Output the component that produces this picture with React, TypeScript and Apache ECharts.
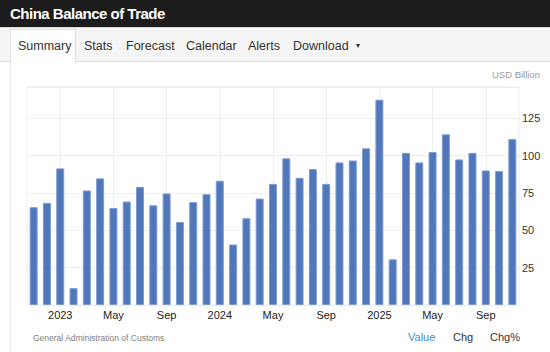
import React, { useEffect, useRef } from "react";
import * as echarts from "echarts";

const months: string[] = [
  "2022-11", "2022-12",
  "2023-01", "2023-02", "2023-03", "2023-04", "2023-05", "2023-06",
  "2023-07", "2023-08", "2023-09", "2023-10", "2023-11", "2023-12",
  "2024-01", "2024-02", "2024-03", "2024-04", "2024-05", "2024-06",
  "2024-07", "2024-08", "2024-09", "2024-10", "2024-11", "2024-12",
  "2025-01", "2025-02", "2025-03", "2025-04", "2025-05", "2025-06",
  "2025-07", "2025-08", "2025-09", "2025-10", "2025-11",
];

const balance: number[] = [
  65.5, 68.4,
  91.5, 11.3, 76.7, 84.8, 65.0, 69.3,
  79.1, 66.8, 74.7, 55.6, 68.9, 74.2,
  83.2, 40.5, 58.1, 71.3, 81.1, 98.2,
  85.2, 91.0, 81.1, 95.5, 96.8, 104.9,
  137.5, 30.6, 101.9, 95.5, 102.4, 114.3,
  97.5, 101.9, 90.1, 89.7, 111.1,
];

const monthNames: string[] = ["Jan", "Feb", "Mar", "Apr", "May", "Jun", "Jul", "Aug", "Sep", "Oct", "Nov", "Dec"];
const labelMonths: string[] = ["01", "05", "09"];
const tabs: string[] = ["Summary", "Stats", "Forecast", "Calendar", "Alerts", "Download"];
const tabX: number[] = [18, 84, 126, 186, 248, 293];
const footerLinks: string[] = ["Value", "Chg", "Chg%"];
const footerX: number[] = [408, 453, 490];

const FONT = "'Liberation Sans', Arial, Helvetica, sans-serif";

function showLabel(_i: number, v: string): boolean {
  return labelMonths.indexOf(v.slice(5)) >= 0;
}

function Chart() {
  const ref = useRef<HTMLDivElement>(null);
  useEffect(() => {
    if (!ref.current) return;
    const chart = echarts.init(ref.current, null, { renderer: "svg" });
    chart.setOption({
      animation: false,
      textStyle: { fontFamily: FONT },
      grid: {
        left: 27, top: 25, width: 492, height: 218,
        show: true, borderColor: "#eeeeee", borderWidth: 1, backgroundColor: "transparent",
      },
      xAxis: {
        type: "category",
        data: months,
        boundaryGap: true,
        axisLine: { show: false },
        axisTick: { show: false },
        axisLabel: {
          interval: (i: number, v: string) => showLabel(i, v),
          formatter: (v: string) => {
            const m = v.slice(5);
            return m === "01" ? v.slice(0, 4) : monthNames[parseInt(m, 10) - 1];
          },
          color: "#222",
          fontSize: 11,
          margin: 4,
          fontFamily: FONT,
        },
        splitLine: {
          show: true,
          alignWithLabel: true,
          interval: (i: number, v: string) => showLabel(i, v),
          lineStyle: { color: "#eeeeee", width: 1 },
        },
      },
      yAxis: {
        type: "value",
        position: "right",
        min: 0,
        max: 146,
        interval: 25,
        axisLine: { show: false },
        axisTick: { show: false },
        axisLabel: {
          showMinLabel: false,
          showMaxLabel: false,
          color: "#333",
          fontSize: 11,
          margin: 3,
          fontFamily: FONT,
        },
        splitLine: { show: true, lineStyle: { color: "#eeeeee", width: 1 } },
      },
      series: [
        {
          type: "bar",
          data: balance,
          barWidth: 8,
          itemStyle: { color: "#5077ba", borderColor: "#7e9cd2", borderWidth: 1 },
        },
      ],
      graphic: [
        {
          type: "text",
          right: 10,
          top: 7,
          style: { text: "USD Billion", fill: "#999", fontSize: 9.5, fontFamily: FONT },
        },
        {
          type: "text",
          left: 33,
          top: 271,
          style: { text: "General Administration of Customs", fill: "#808080", fontSize: 8.5, fontFamily: FONT },
        },
        ...footerLinks.map((t, i) => ({
          type: "text",
          left: footerX[i],
          top: 269,
          style: { text: t, fill: i === 0 ? "#428bca" : "#333", fontSize: 11, fontFamily: FONT },
        })),
      ],
    });
    return () => chart.dispose();
  }, []);
  return <div ref={ref} style={{ position: "absolute", left: 0, top: 62, width: 550, height: 290 }} />;
}

export default function App() {
  useEffect(() => {
    document.body.style.margin = "0";
  }, []);
  return (
    <div style={{ position: "absolute", left: 0, top: 0, width: 550, height: 352, overflow: "hidden", background: "#fff", fontFamily: FONT }}>
      <div style={{ position: "absolute", left: 0, top: 0, width: 550, height: 27, background: "#1c1c1c" }}>
        <div style={{ position: "absolute", left: 10, top: 5, color: "#fff", fontWeight: "bold", fontSize: 15, letterSpacing: -0.5, lineHeight: "18px" }}>
          China Balance of Trade
        </div>
      </div>
      <div style={{ position: "absolute", left: 0, top: 27, width: 550, height: 35, background: "#f5f5f5", borderTop: "1px solid #d8d8d8", borderBottom: "1px solid #dddddd", boxSizing: "border-box" }} />
      <div style={{ position: "absolute", left: 10, top: 29, width: 66, height: 34, background: "#fff", border: "1px solid #dddddd", borderBottom: "none", boxSizing: "border-box" }} />
      <div style={{ position: "absolute", left: 10, top: 62, width: 540, height: 290, borderLeft: "1px solid #eeeeee", boxSizing: "border-box" }} />
      {tabs.map((t, i) => (
        <div key={t} style={{ position: "absolute", left: tabX[i], top: 38.5, fontSize: 12.5, color: "#333", lineHeight: "15px", whiteSpace: "nowrap" }}>
          {t}
          {t === "Download" ? <span style={{ fontSize: 7, marginLeft: 6, position: "relative", top: -2 }}>▼</span> : null}
        </div>
      ))}
      <Chart />
    </div>
  );
}
